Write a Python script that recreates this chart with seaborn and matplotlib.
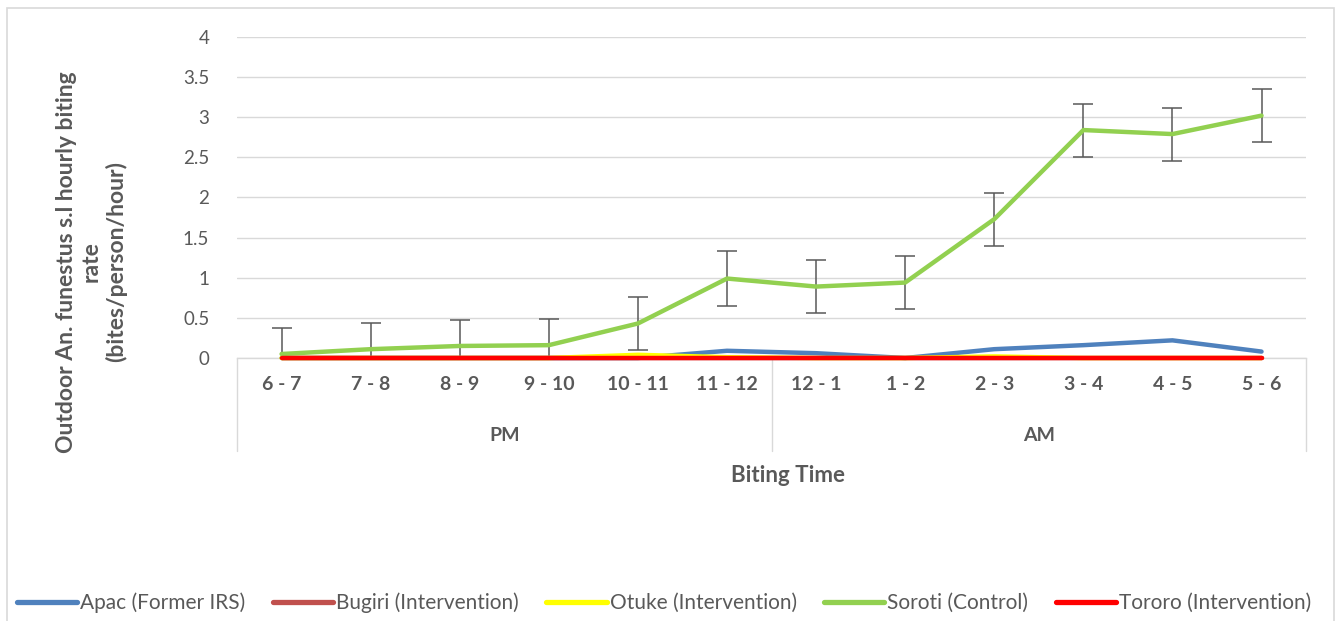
import matplotlib
matplotlib.use("Agg")
import matplotlib.pyplot as plt
import matplotlib.transforms as mtransforms
from matplotlib.patches import Rectangle
import seaborn as sns
import pandas as pd
import numpy as np

categories = ["6 - 7", "7 - 8", "8 - 9", "9 - 10", "10 - 11", "11 - 12",
              "12 - 1", "1 - 2", "2 - 3", "3 - 4", "4 - 5", "5 - 6"]
groups = ["PM", "AM"]
series_names = ["Apac (Former IRS)", "Bugiri (Intervention)", "Otuke (Intervention)",
                "Soroti (Control)", "Tororo (Intervention)"]
apac = [0.0, 0.0, 0.0, 0.0, 0.0, 0.09, 0.06, 0.0, 0.11, 0.16, 0.22, 0.08]
bugiri = [0.0] * 12
otuke = [0.0, 0.0, 0.0, 0.0, 0.04, 0.01, 0.0, 0.0, 0.02, 0.0, 0.0, 0.0]
soroti = [0.05, 0.11, 0.15, 0.16, 0.43, 0.99, 0.89, 0.94, 1.73, 2.84, 2.79, 3.02]
tororo = [0.0] * 12
soroti_err = [0.32, 0.33, 0.32, 0.33, 0.33, 0.34, 0.33, 0.33, 0.33, 0.33, 0.33, 0.33]
colors = ["#4F81BD", "#C0504D", "#FFFF00", "#92D050", "#FF0000"]

values = [apac, bugiri, otuke, soroti, tororo]
rows = []
for name, vals in zip(series_names, values):
    for i, v in enumerate(vals):
        rows.append({"pos": i, "value": v, "series": name})
df = pd.DataFrame(rows)

sns.set_theme(style="white")
plt.rcParams['font.family'] = ['Lato', 'DejaVu Sans']

fig = plt.figure(figsize=(13.43, 6.21), dpi=100)
ax = fig.add_axes([0.1765, 0.4235, 0.796, 0.517])

sns.lineplot(data=df, x="pos", y="value", hue="series", hue_order=series_names,
             palette=colors, linewidth=3.2, ax=ax, legend=True, zorder=3,
             estimator=None, sort=False)
for ln in ax.get_lines():
    ln.set_clip_on(False)

# error bars for Soroti (drawn under lines, clipped at the axis)
ax.errorbar(range(len(categories)), soroti, yerr=soroti_err, fmt="none",
            ecolor="#595959", elinewidth=1.1, capsize=7, capthick=1.1, zorder=2)

ax.set_xlim(-0.5, len(categories) - 0.5)
ax.set_ylim(0, 4)
ax.set_yticks(np.arange(0, 4.01, 0.5))
ax.set_yticklabels(["0", "0.5", "1", "1.5", "2", "2.5", "3", "3.5", "4"])
ax.yaxis.grid(True, color="#d9d9d9", linewidth=1)
ax.set_axisbelow(True)
for s in ["top", "right", "left"]:
    ax.spines[s].set_visible(False)
ax.spines["bottom"].set_color("#d9d9d9")
ax.spines["bottom"].set_linewidth(1)
ax.spines["bottom"].set_zorder(1)
ax.tick_params(axis="y", length=0, labelsize=13.5, labelcolor="#595959", pad=20)
ax.tick_params(axis="x", length=0)
ax.set_xticks(range(len(categories)))
ax.set_xticklabels(categories, fontsize=14, fontweight="bold", color="#595959")
ax.tick_params(axis="x", pad=13)
ax.set_xlabel("")
ax.set_ylabel("Outdoor An. funestus s.l hourly biting\nrate\n(bites/person/hour)",
              fontsize=16.5, fontweight="bold", color="#595959", linespacing=1.2)
ax.yaxis.set_label_coords(-0.103, 0.30)

# multi-level category separators
trans = mtransforms.blended_transform_factory(ax.transData, ax.transAxes)
for xv in [-0.5, 5.5, 11.5]:
    ax.plot([xv, xv], [0, -0.29], transform=trans, color="#d9d9d9",
            linewidth=1, clip_on=False)
ax.text(2.5, -0.242, groups[0], transform=trans, ha="center", va="center",
        fontsize=14, fontweight="bold", color="#595959")
ax.text(8.5, -0.242, groups[1], transform=trans, ha="center", va="center",
        fontsize=14, fontweight="bold", color="#595959")
fig.text(0.5865, 1 - 475 / 621, "Biting Time", ha="center", va="center",
         fontsize=16, fontweight="bold", color="#595959")

# legend
handles, labels = ax.get_legend_handles_labels()
ax.get_legend().remove()
leg = fig.legend(handles, labels, loc="center", bbox_to_anchor=(0.4945, 1 - 603 / 621),
                 ncol=5, frameon=False, fontsize=15, handlelength=2.9,
                 columnspacing=1.3, handletextpad=0.15)
for t in leg.get_texts():
    t.set_color("#595959")
for line in leg.get_lines():
    line.set_linewidth(3.8)

# outer chart border
fig.patches.append(Rectangle((7 / 1343, -0.01), 1327 / 1343, 1 - 8 / 621 + 0.01,
                             transform=fig.transFigure, fill=False,
                             edgecolor="#d9d9d9", linewidth=1.2))

fig.savefig("out.png", dpi=100)
